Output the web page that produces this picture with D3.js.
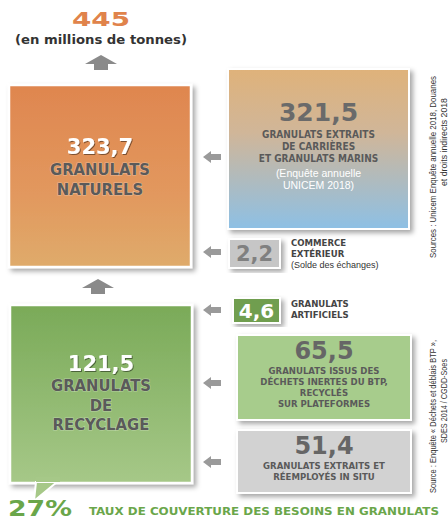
<!DOCTYPE html>
<html>
<head>
<meta charset="utf-8">
<script src="https://cdn.jsdelivr.net/npm/d3@7"></script>
<style>
  body { margin: 0; background: #fff; }
  svg { display: block; }
  text { font-family: "Liberation Sans", Arial, sans-serif; }
  .cond { font-family: "DejaVu Sans Condensed", "DejaVu Sans", sans-serif; font-weight: bold; }
  .heavy { font-family: "DejaVu Sans", sans-serif; font-weight: bold; }
</style>
</head>
<body>
<svg id="chart" width="448" height="522"></svg>
<script>
// totals
var total = 445;
var totalUnit = "(en millions de tonnes)";

// main blocks (left column)
var mainNames = ["naturels", "recyclage"];
var mainValues = [323.7, 121.5];
var mainLabels = [["GRANULATS", "NATURELS"], ["GRANULATS", "DE", "RECYCLAGE"]];

// feeding blocks (right column)
var srcNames = ["carrieres", "commerce", "artificiels", "btp", "insitu"];
var srcValues = [321.5, 2.2, 4.6, 65.5, 51.4];
var srcLabels = [
  ["GRANULATS EXTRAITS", "DE CARRIÈRES", "ET GRANULATS MARINS"],
  ["COMMERCE", "EXTÉRIEUR"],
  ["GRANULATS", "ARTIFICIELS"],
  ["GRANULATS ISSUS DES", "DÉCHETS INERTES DU BTP,", "RECYCLÉS", "SUR PLATEFORMES"],
  ["GRANULATS EXTRAITS ET", "RÉEMPLOYÉS IN SITU"]
];
var srcNotes = [["(Enquête annuelle", "UNICEM 2018)"], ["(Solde des échanges)"], [], [], []];

var coverage = "27%";
var coverageText = "TAUX DE COUVERTURE DES BESOINS EN GRANULATS";
var sources = [
  ["Sources : Unicem Enquête annuelle 2018, Douanes", "et droits indirects 2018"],
  ["Source : Enquête « Déchets et déblais BTP »,", "SDES 2014 / CGDD-Soes"]
];

var fmt = function(v) { return d3.format(".1f")(v).replace(".", ","); };

var svg = d3.select("#chart");
var defs = svg.append("defs");

var sh = defs.append("filter").attr("id", "shadow")
  .attr("x", "-10%").attr("y", "-10%").attr("width", "125%").attr("height", "125%");
sh.append("feDropShadow").attr("dx", 3).attr("dy", 3).attr("stdDeviation", 2.5)
  .attr("flood-color", "#000").attr("flood-opacity", 0.35);

var ts = defs.append("filter").attr("id", "tshadow")
  .attr("x", "-10%").attr("y", "-20%").attr("width", "130%").attr("height", "150%");
ts.append("feDropShadow").attr("dx", 1).attr("dy", 1).attr("stdDeviation", 0.6)
  .attr("flood-color", "#000").attr("flood-opacity", 0.45);

function grad(id, stops) {
  var g = defs.append("linearGradient").attr("id", id)
    .attr("x1", 0).attr("y1", 0).attr("x2", 0).attr("y2", 1);
  stops.forEach(function(s) {
    g.append("stop").attr("offset", s[0]).attr("stop-color", s[1]);
  });
}
grad("gOrange", [[0, "#df864f"], [0.6, "#e2985e"], [1, "#dfab6b"]]);
grad("gTanBlue", [[0, "#dfb27a"], [0.4, "#d0b699"], [1, "#8dc0e5"]]);
grad("gGreen", [[0, "#7aaa58"], [1, "#a6c888"]]);

// layout of the blocks
var mainBox = {
  naturels: { x: 9, y: 85, w: 182, h: 182, fill: "url(#gOrange)", ny: 69, ly: [90, 109.5], nsize: 21, lsize: 16.5 },
  recyclage: { x: 10, y: 305, w: 182, h: 178, fill: "url(#gGreen)", ny: 66, ly: [86, 105.5, 125], nsize: 21, lsize: 16.5 }
};
var srcBox = {
  carrieres: { x: 228, y: 69, w: 181, h: 160, fill: "url(#gTanBlue)", num: "#6a6a6a", nsize: 25, ny: 52, ly: [69, 81, 93], lsize: 10, noteY: [108, 120] },
  commerce: { x: 229, y: 239, w: 51, h: 29, fill: "#c6c6c6", num: "#808080", nsize: 21, side: true, ly0: 7 },
  artificiels: { x: 233, y: 298, w: 47, h: 25, fill: "#6f9e4f", num: "#fff", nsize: 20, side: true, ly0: 9 },
  btp: { x: 237, y: 335, w: 174, h: 85, fill: "#a7cc8c", num: "#666", nsize: 24, ny: 24, ly: [39, 50, 61, 72], lsize: 9.5 },
  insitu: { x: 237, y: 430, w: 174, h: 63, fill: "#d2d2d2", num: "#666", nsize: 24, ny: 24, ly: [39, 50], lsize: 9.5 }
};

// arrows
var leftArrowYs = [157, 252, 310, 383, 462];
var upArrows = [{ x: 101, y: 55 }, { x: 98, y: 279 }];

// header
svg.append("text").attr("class", "heavy").attr("x", 101).attr("y", 26).attr("text-anchor", "middle")
  .attr("font-size", 20).attr("fill", "#e0834b").attr("textLength", 58).attr("lengthAdjust", "spacingAndGlyphs")
  .text(total);
svg.append("text").attr("class", "heavy").attr("x", 101).attr("y", 44).attr("text-anchor", "middle")
  .attr("font-size", 12.5).attr("fill", "#333").attr("textLength", 172).attr("lengthAdjust", "spacingAndGlyphs")
  .text(totalUnit);

// up arrows
svg.selectAll(".up").data(upArrows).enter().append("path").attr("class", "up")
  .attr("d", function(d) {
    var x = d.x, y = d.y;
    return "M" + x + "," + y + " L" + (x + 16) + "," + (y + 9) + " L" + (x + 7) + "," + (y + 9) +
      " L" + (x + 7) + "," + (y + 15) + " L" + (x - 7) + "," + (y + 15) + " L" + (x - 7) + "," + (y + 9) +
      " L" + (x - 16) + "," + (y + 9) + "Z";
  }).attr("fill", "#8a8a8a");

// left arrows
svg.selectAll(".la").data(leftArrowYs).enter().append("path").attr("class", "la")
  .attr("d", function(y) {
    var x = 203;
    return "M" + x + "," + y + " L" + (x + 8) + "," + (y - 6) + " L" + (x + 8) + "," + (y - 3) +
      " L" + (x + 18) + "," + (y - 3) + " L" + (x + 18) + "," + (y + 3) + " L" + (x + 8) + "," + (y + 3) +
      " L" + (x + 8) + "," + (y + 6) + "Z";
  }).attr("fill", "#9a9a9a");

// main blocks
var mains = mainNames.map(function(n, i) { return { name: n, value: mainValues[i], label: mainLabels[i], box: mainBox[n] }; });
var mg = svg.selectAll(".main").data(mains).enter().append("g").attr("class", "main")
  .attr("transform", function(d) { return "translate(" + d.box.x + "," + d.box.y + ")"; });
mg.append("rect").attr("width", function(d) { return d.box.w; }).attr("height", function(d) { return d.box.h; })
  .attr("fill", function(d) { return d.box.fill; }).attr("stroke", "#fff").attr("stroke-width", 2.5)
  .attr("filter", "url(#shadow)");
// speech tail on recycling block
svg.append("path")
  .attr("d", "M36,482 L57,482 L34,501 Z").attr("fill", "#a6c888").attr("stroke", "#fff").attr("stroke-width", 2);
svg.append("rect").attr("x", 36).attr("y", 477).attr("width", 24).attr("height", 5).attr("fill", "#a6c888");

mg.append("text").attr("class", "heavy").attr("x", function(d) { return d.box.w / 2; })
  .attr("y", function(d) { return d.box.ny; }).attr("text-anchor", "middle")
  .attr("font-size", function(d) { return d.box.nsize; }).attr("fill", "#fff")
  .attr("filter", "url(#tshadow)")
  .text(function(d) { return fmt(d.value); });
mg.each(function(d) {
  var g = d3.select(this);
  d.label.forEach(function(l, j) {
    g.append("text").attr("class", "cond").attr("x", d.box.w / 2).attr("y", d.box.ly[j])
      .attr("text-anchor", "middle").attr("font-size", d.box.lsize).attr("fill", "#5a5a5a")
      .style("paint-order", "stroke").attr("stroke", "rgba(255,255,255,0.35)").attr("stroke-width", 1.2)
      .text(l);
  });
});

// source blocks
var srcs = srcNames.map(function(n, i) { return { name: n, value: srcValues[i], label: srcLabels[i], note: srcNotes[i], box: srcBox[n] }; });
var sg = svg.selectAll(".src").data(srcs).enter().append("g").attr("class", "src")
  .attr("transform", function(d) { return "translate(" + d.box.x + "," + d.box.y + ")"; });
sg.append("rect").attr("width", function(d) { return d.box.w; }).attr("height", function(d) { return d.box.h; })
  .attr("fill", function(d) { return d.box.fill; }).attr("stroke", "#fff").attr("stroke-width", 2)
  .attr("filter", "url(#shadow)");
sg.append("text").attr("class", "heavy").attr("x", function(d) { return d.box.w / 2; })
  .attr("y", function(d) { return d.box.side ? d.box.h / 2 + d.box.nsize * 0.36 : d.box.ny; })
  .attr("text-anchor", "middle")
  .attr("font-size", function(d) { return d.box.nsize; }).attr("fill", function(d) { return d.box.num; })
  .text(function(d) { return fmt(d.value); });
sg.each(function(d) {
  var g = d3.select(this);
  if (d.box.side) {
    d.label.forEach(function(l, j) {
      g.append("text").attr("class", "cond").attr("x", d.box.w + 11).attr("y", d.box.ly0 + j * 11)
        .attr("font-size", 9.5).attr("fill", "#444").text(l);
    });
    d.note.forEach(function(l, j) {
      g.append("text").attr("x", d.box.w + 11).attr("y", d.box.ly0 + (d.label.length + j) * 11)
        .attr("font-family", "'DejaVu Sans Condensed', sans-serif")
        .attr("font-size", 9).attr("fill", "#333").text(l);
    });
  } else {
    d.label.forEach(function(l, j) {
      g.append("text").attr("class", "cond").attr("x", d.box.w / 2).attr("y", d.box.ly[j])
        .attr("text-anchor", "middle").attr("font-size", d.box.lsize).attr("fill", "#5a5a5a").text(l);
    });
    d.note.forEach(function(l, j) {
      g.append("text").attr("x", d.box.w / 2).attr("y", d.box.noteY[j])
        .attr("text-anchor", "middle").attr("font-size", 10.5).attr("fill", "#fff").text(l);
    });
  }
});

// coverage
svg.append("text").attr("class", "heavy").attr("x", 8).attr("y", 516)
  .attr("font-size", 21).attr("fill", "#6aa64a").attr("textLength", 64).attr("lengthAdjust", "spacingAndGlyphs")
  .text(coverage);
svg.append("text").attr("class", "cond").attr("x", 89).attr("y", 515).attr("font-size", 10)
  .attr("fill", "#6aa64a").attr("textLength", 350).attr("lengthAdjust", "spacingAndGlyphs").text(coverageText);

// rotated sources
var srcPos = [
  [{ x: 436, y: 258, len: 182, anchor: "start" }, { x: 447, y: 98, len: 88, anchor: "end" }],
  [{ x: 436, y: 493, len: 153, anchor: "start" }, { x: 447, y: 443, len: 84, anchor: "start" }]
];
sources.forEach(function(lines, i) {
  lines.forEach(function(l, j) {
    var p = srcPos[i][j];
    svg.append("text").attr("transform", "translate(" + p.x + "," + p.y + ") rotate(-90)")
      .attr("font-family", "'DejaVu Sans Condensed', sans-serif").attr("font-size", 9)
      .attr("fill", "#333").attr("text-anchor", p.anchor)
      .attr("textLength", p.len).attr("lengthAdjust", "spacingAndGlyphs")
      .text(l);
  });
});
</script>
</body>
</html>
